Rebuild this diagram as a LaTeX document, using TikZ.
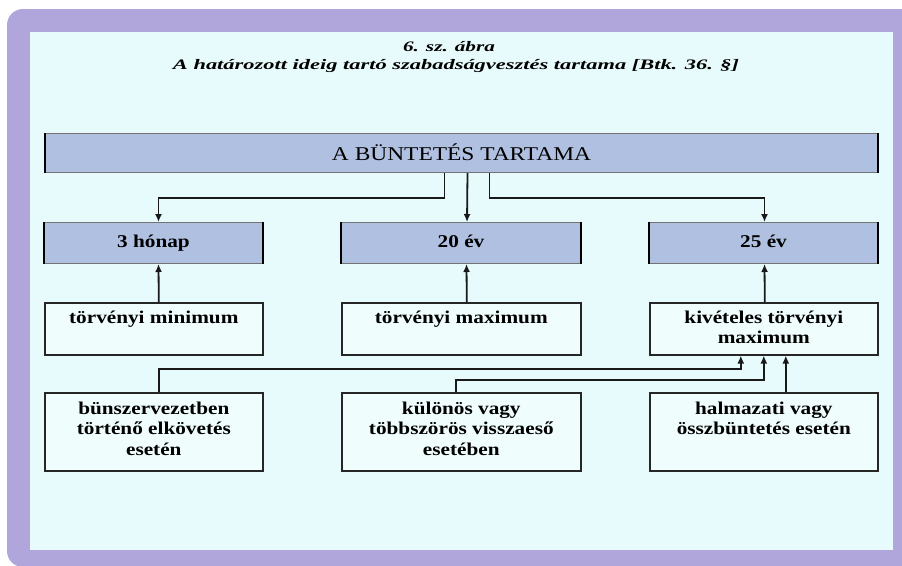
\documentclass[tikz,border=0pt]{standalone}
\usepackage{fontspec}
\setmainfont{Liberation Serif}
\usepackage{graphicx}
\usetikzlibrary{arrows.meta}
\definecolor{framecol}{HTML}{B0A6DC}
\definecolor{panelcol}{HTML}{E8FBFC}
\definecolor{boxblue}{HTML}{AFC0E0}
\definecolor{boxwhite}{HTML}{F0FDFD}
\newcommand{\sx}[1]{\scalebox{1.18}[1]{\begin{tabular}[t]{@{}c@{}}#1\end{tabular}}}
\begin{document}
\begin{tikzpicture}[x=1pt,y=-1pt,
  bluebox/.style={draw=black!55, line width=1pt, fill=boxblue, inner sep=0pt, anchor=north west},
  whitebox/.style={draw=black!85, line width=1.6pt, fill=boxwhite, inner sep=0pt, anchor=north west},
  lbl/.style={font=\fontsize{18}{20.5}\selectfont\bfseries, inner sep=0pt, anchor=base},
  ttl/.style={font=\fontsize{14.5}{16}\selectfont\bfseries\itshape, inner sep=0pt, anchor=base},
  conn/.style={draw=black!90, line width=1.8pt, -{Latex[length=8pt,width=7pt]}},
]
\useasboundingbox (0,0) rectangle (902,565);
\clip (0,0) rectangle (902,565);
\fill[white] (0,0) rectangle (902,565);
\fill[framecol, rounded corners=16pt] (7,9) rectangle (940,567);
\fill[panelcol] (30,32) rectangle (893,550);

% title
\node[ttl] (t1) at (449,51) {\resizebox{92pt}{\height}{6. sz. ábra}};
\node[ttl] (t2) at (456,69) {\resizebox{566pt}{\height}{A határozott ideig tartó szabadságvesztés tartama [Btk. 36. §]}};

% boxes
\node[bluebox, minimum width=832pt, minimum height=39pt] (top) at (45,133) {};
\node[bluebox, minimum width=218pt, minimum height=41pt] (r2a) at (44,222) {};
\node[bluebox, minimum width=239pt, minimum height=41pt] (r2b) at (341,222) {};
\node[bluebox, minimum width=228pt, minimum height=41pt] (r2c) at (649,222) {};
\node[whitebox, minimum width=218pt, minimum height=52pt] (r3a) at (44,302) {};
\node[whitebox, minimum width=239pt, minimum height=52pt] (r3b) at (341,302) {};
\node[whitebox, minimum width=228pt, minimum height=52pt] (r3c) at (649,302) {};
\node[whitebox, minimum width=218pt, minimum height=78pt] (r4a) at (44,392) {};
\node[whitebox, minimum width=239pt, minimum height=78pt] (r4b) at (341,392) {};
\node[whitebox, minimum width=228pt, minimum height=78pt] (r4c) at (649,392) {};
\foreach \n in {top,r2a,r2b,r2c}
  \draw[line width=2.4pt, black] (\n.north west) -- (\n.south west) (\n.north east) -- (\n.south east);

% texts
\node[lbl, font=\fontsize{19.5}{22}\selectfont] (ttop) at ([yshift=-27pt]top.north) {\resizebox{259pt}{\height}{A BÜNTETÉS TARTAMA}};
\node[lbl] (l2a) at ([yshift=-25pt]r2a.north) {\sx{3 hónap}};
\node[lbl] (l2b) at ([yshift=-25pt]r2b.north) {\sx{20 év}};
\node[lbl] (l2c) at ([yshift=-25pt]r2c.north) {\sx{25 év}};
\node[lbl] (l3a) at ([yshift=-21pt]r3a.north) {\sx{törvényi minimum}};
\node[lbl] (l3b) at ([yshift=-21pt]r3b.north) {\sx{törvényi maximum}};
\node[lbl] (l3c) at ([yshift=-21pt]r3c.north) {\sx{kivételes törvényi\\maximum}};
\node[lbl] (l4a) at ([yshift=-22pt]r4a.north) {\sx{bünszervezetben\\történő elkövetés\\esetén}};
\node[lbl] (l4b) at ([yshift=-22pt]r4b.north) {\sx{különös vagy\\többszörös visszaeső\\esetében}};
\node[lbl] (l4c) at ([yshift=-22pt]r4c.north) {\sx{halmazati vagy\\összbüntetés esetén}};

% connectors from top
\draw[conn] ([xshift=-17pt]top.south) |- ([xshift=5pt,yshift=24pt]r2a.north) -- ([xshift=5pt]r2a.north);
\draw[conn] ([xshift=6pt]top.south) -- ([xshift=6pt]r2b.north);
\draw[conn] ([xshift=28pt]top.south) |- ([xshift=1pt,yshift=24pt]r2c.north) -- ([xshift=1pt]r2c.north);
% row 3 to row 2
\draw[conn] ([xshift=5pt]r3a.north) -- ([xshift=5pt]r2a.south);
\draw[conn] ([xshift=5.5pt]r3b.north) -- ([xshift=5.5pt]r2b.south);
\draw[conn] ([xshift=1pt]r3c.north) -- ([xshift=1pt]r2c.south);
% row 4 to kiveteles
\draw[conn] ([xshift=5pt]r4a.north) |- ([xshift=-23pt,yshift=-13pt]r3c.south) -- ([xshift=-23pt]r3c.south);
\draw[conn] ([xshift=-5.5pt]r4b.north) |- ([xshift=0pt,yshift=-24pt]r3c.south) -- ([xshift=0pt]r3c.south);
\draw[conn] ([xshift=22pt]r4c.north) -- ([xshift=22pt]r3c.south);
\end{tikzpicture}
\end{document}
